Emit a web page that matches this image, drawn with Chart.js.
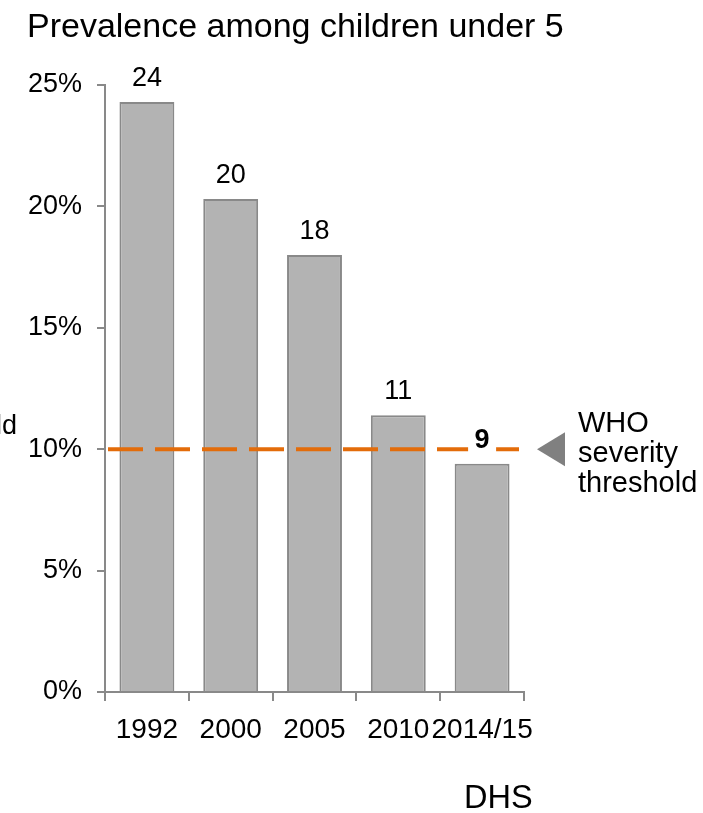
<!DOCTYPE html>
<html>
<head>
<meta charset="utf-8">
<script src="https://cdn.jsdelivr.net/npm/chart.js@4/dist/chart.umd.min.js"></script>
<style>
  html, body { margin: 0; padding: 0; background: #ffffff; }
  #wrap { position: relative; width: 703px; height: 813px; }
</style>
</head>
<body>
<div id="wrap"><canvas id="c" width="703" height="813"></canvas></div>
<script>
// Prevalence by survey round (percent)
const surveyYears = ['1992', '2000', '2005', '2010', '2014/15'];
const prevalence = [24.3, 20.3, 18.0, 11.4, 9.4];
const yTickValues = [0, 5, 10, 15, 20, 25];
const thresholdValue = 10;
const titleText = 'Prevalence among children under 5';
const sourceText = 'DHS';
const thresholdLabel = ['WHO', 'severity', 'threshold'];
const sideLabel = 'ld';

const FONT = '"Liberation Sans", Arial, Helvetica, sans-serif';
const AXIS_GREY = '#898989';
const HIGHLIGHT = surveyYears.length - 1; // latest round shown in bold

const overlay = {
  id: 'overlay',
  afterDatasetsDraw(chart) {
    const { ctx, chartArea, scales: { y } } = chart;
    const ty = y.getPixelForValue(thresholdValue);
    ctx.save();

    // dashed threshold line across the plot
    ctx.strokeStyle = '#E36C0A';
    ctx.lineWidth = 4;
    ctx.setLineDash([35, 12]);
    ctx.lineDashOffset = -3;
    ctx.beginPath();
    ctx.moveTo(chartArea.left, ty);
    ctx.lineTo(chartArea.right, ty);
    ctx.stroke();
    ctx.setLineDash([]);

    // value labels above each bar
    const meta = chart.getDatasetMeta(0);
    meta.data.forEach((bar, i) => {
      const txt = String(Math.round(prevalence[i]));
      const bold = i === HIGHLIGHT;
      ctx.font = (bold ? 'bold ' : '') + '27px ' + FONT;
      ctx.textAlign = 'center';
      ctx.textBaseline = 'alphabetic';
      const by = bar.y - 16;
      if (bold) {
        const w = 28;
        ctx.fillStyle = '#ffffff';
        ctx.fillRect(bar.x - w / 2, by - 22, w, 28);
      }
      ctx.fillStyle = '#000000';
      ctx.fillText(txt, bar.x, by);
    });

    // pointer triangle and threshold caption
    const tipX = chartArea.right + 13;
    const baseX = chartArea.right + 41;
    ctx.fillStyle = '#808080';
    ctx.beginPath();
    ctx.moveTo(tipX, ty);
    ctx.lineTo(baseX, ty - 17);
    ctx.lineTo(baseX, ty + 17);
    ctx.closePath();
    ctx.fill();

    ctx.fillStyle = '#000000';
    ctx.font = '29px ' + FONT;
    ctx.textAlign = 'left';
    ctx.textBaseline = 'alphabetic';
    thresholdLabel.forEach((line, k) => {
      ctx.fillText(line, chartArea.right + 54, ty - 17 + k * 30);
    });

    // title, source and left-edge caption
    ctx.font = '34px ' + FONT;
    ctx.fillText(titleText, 27, 37);
    ctx.font = '32.5px ' + FONT;
    ctx.fillText(sourceText, 464, 808);
    ctx.font = '27px ' + FONT;
    ctx.textAlign = 'right';
    ctx.fillText(sideLabel, 17, 434);

    ctx.restore();
  }
};

new Chart(document.getElementById('c'), {
  type: 'bar',
  data: {
    labels: surveyYears,
    datasets: [{
      data: prevalence,
      backgroundColor: '#B3B3B3',
      borderColor: '#898989',
      borderWidth: 2,
      barPercentage: 0.655,
      categoryPercentage: 1.0
    }]
  },
  options: {
    responsive: false,
    animation: false,
    devicePixelRatio: 1,
    layout: { padding: { left: 0, right: 179, top: 85, bottom: 0 } },
    plugins: { legend: { display: false }, tooltip: { enabled: false }, title: { display: false } },
    scales: {
      x: {
        afterFit(scale) { scale.height = 121; },
        grid: { display: true, drawOnChartArea: false, offset: true, tickLength: 9, color: AXIS_GREY, lineWidth: 2 },
        border: { display: true, color: AXIS_GREY, width: 2 },
        ticks: { color: '#000000', font: { family: FONT, size: 28 }, padding: 12, maxRotation: 0, autoSkip: false }
      },
      y: {
        min: 0,
        max: 25,
        afterFit(scale) { scale.width = 105; },
        afterBuildTicks(scale) { scale.ticks = yTickValues.map(v => ({ value: v })); },
        grid: { display: true, drawOnChartArea: false, tickLength: 8, color: AXIS_GREY, lineWidth: 2 },
        border: { display: true, color: AXIS_GREY, width: 2 },
        ticks: { color: '#000000', font: { family: FONT, size: 27 }, padding: 15, callback: v => v + '%' }
      }
    }
  },
  plugins: [overlay]
});
</script>
</body>
</html>
